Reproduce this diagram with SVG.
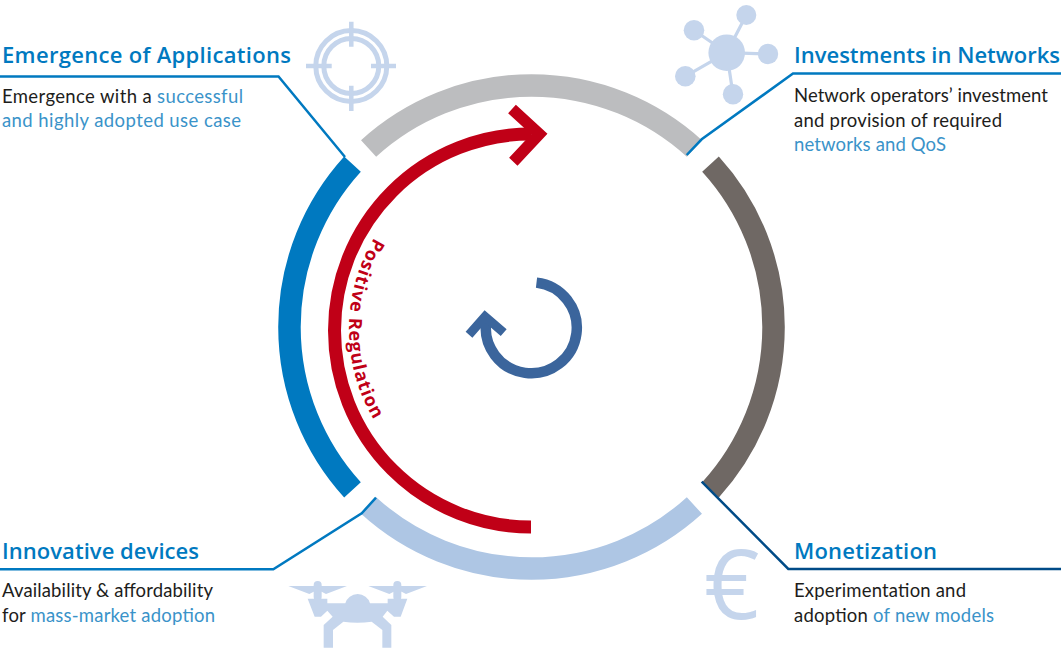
<svg xmlns="http://www.w3.org/2000/svg" width="1061" height="650" viewBox="0 0 1061 650">
<style>
.t{font-family:"Open Sans","Noto Sans",sans-serif;font-size:22px;font-weight:600;fill:#0079c0}
.b{font-family:"Lato","Open Sans",sans-serif;font-size:18.5px;font-weight:400;fill:#1d1d1b}
.h{fill:#3a93c9}
.ic{fill:#c5d5ec}
.ics{fill:none;stroke:#c5d5ec}
.seg{fill:none;stroke-width:22.5}
.lead{fill:none;stroke-width:2.5;stroke:#0079c0}
</style>
<defs>
<path id="curve" d="M 412.6 192.6 A 178 178 0 0 0 412.6 465.4"/>
</defs>
<rect width="1061" height="650" fill="#fff"/>
<g id="ring">
<path class="seg" stroke="#bcbdbf" d="M 368.6 148.5 A 242 242 0 0 1 694.4 148.5"/>
<path class="seg" stroke="#6f6864" d="M 710.5 164.1 A 242 242 0 0 1 710.5 489.9"/>
<path class="seg" stroke="#aec6e4" d="M 694.4 505.5 A 242 242 0 0 1 368.6 505.5"/>
<path class="seg" stroke="#0079c0" d="M 352.5 489.9 A 242 242 0 0 1 352.5 164.1"/>
</g>
<g id="connectors">
<path class="lead" d="M 0 76.5 H 278.5 L 345 157"/>
<path class="lead" d="M 1061 73.5 H 793 L 701.7 139.3 L 686.7 155"/>
<path class="lead" d="M 0 569.3 H 273.3 L 361.7 513.3 L 376 497.7"/>
<path class="lead" style="stroke:#004b87" d="M 701.7 481.7 L 788.3 569 H 1061"/>
</g>
<g id="positive-regulation">
<path d="M 531 527 A 196.5 196.5 0 0 1 531 134" fill="none" stroke="#c00017" stroke-width="13"/>
<path d="M 512 109 L 539.3 134 L 513.3 161.7" fill="none" stroke="#c00017" stroke-width="11.5" stroke-miterlimit="6"/>
<text font-family="'Open Sans','Noto Sans',sans-serif" font-size="18" font-weight="700" letter-spacing="1" fill="#c00017"><textPath href="#curve" startOffset="50%" text-anchor="middle">Positive Regulation</textPath></text>
</g>
<g id="cycle">
<path d="M 536.5 282.6 A 45.5 45.5 0 1 1 486.3 321" fill="none" stroke="#3b659c" stroke-width="10.5"/>
<path d="M 469 334.7 L 485 316.5 L 503.7 332.7" fill="none" stroke="#3b659c" stroke-width="9" stroke-miterlimit="6"/>
</g>
<g id="emergence">
<text class="t" x="2" y="63" textLength="289">Emergence of Applications</text>
<text class="b" x="2" y="103" textLength="241">Emergence with a <tspan class="h">successful</tspan></text>
<text class="b h" x="2" y="127" textLength="239">and highly adopted use case</text>
<g id="icon-target" class="ics">
<circle cx="351.3" cy="66" r="35.5" stroke-width="5"/>
<circle cx="351.3" cy="66" r="27.5" stroke-width="5"/>
<path stroke-width="4.5" d="M351.3 21.7V46.7M351.3 85.7V111M306 66H331.7M371 66H396"/>
</g>
</g>
<g id="investments">
<text class="t" x="794" y="63" textLength="266">Investments in Networks</text>
<text class="b" x="794" y="102" textLength="254">Network operators’ investment</text>
<text class="b" x="794" y="127" textLength="208">and provision of required</text>
<text class="b h" x="794" y="151" textLength="152">networks and QoS</text>
<g id="icon-network">
<path class="ics" stroke-width="3.2" d="M726.7 52.7L746.3 15M726.7 52.7L694 30.3M726.7 52.7L768 54M726.7 52.7L685.3 76.3M726.7 52.7L733 94.3"/>
<circle class="ic" cx="726.7" cy="52.7" r="18.3"/>
<circle class="ic" cx="746.3" cy="15" r="10"/>
<circle class="ic" cx="694" cy="30.3" r="10.3"/>
<circle class="ic" cx="768" cy="54" r="10.2"/>
<circle class="ic" cx="685.3" cy="76.3" r="10.3"/>
<circle class="ic" cx="733" cy="94.3" r="10.2"/>
</g>
</g>
<g id="innovative">
<text class="t" x="2" y="559" textLength="197">Innovative devices</text>
<text class="b" x="2" y="597" textLength="211">Availability &amp; affordability</text>
<text class="b" x="2" y="622" textLength="213">for <tspan class="h">mass-market adoption</tspan></text>
<g id="icon-drone" class="ic" transform="translate(270 490) scale(.33333)">
<path d="M55 288H231L168 312L155 305H131L118 312Z"/>
<path d="M294 288H470L407 312L394 305H370L357 312Z" transform="translate(1 0)"/>
<rect x="131" y="273" width="24" height="60" rx="12"/>
<rect x="370" y="273" width="24" height="60" rx="12"/>
<path d="M113 326H172V340H226A38 36 0 0 1 300 340H353V326H412L392 380H372L352 362L338 380L364 405V473H337V420L305 395Q262 402 220 395L189 420V473H161V405L188 380L172 362L153 380H134Z"/>
</g>
</g>
<g id="monetization">
<text class="t" x="794" y="559" textLength="143">Monetization</text>
<text class="b" x="794" y="597" textLength="172">Experimentation and</text>
<text class="b" x="794" y="622" textLength="200">adoption <tspan class="h">of new models</tspan></text>
<text id="icon-euro" class="ic" x="704" y="619" font-family="'Open Sans','Noto Sans',sans-serif" font-size="97">€</text>
</g>
</svg>
